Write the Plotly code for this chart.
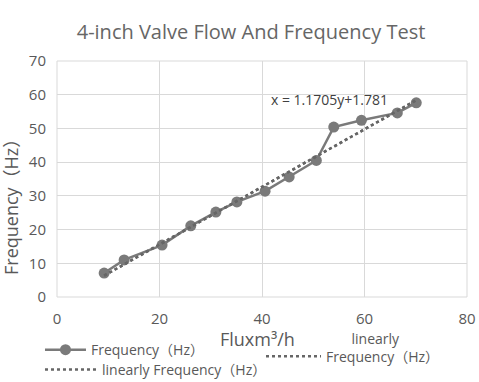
import plotly.graph_objects as go

# Data
flux = [9.2, 13.1, 20.5, 26.1, 31.0, 35.1, 40.6, 45.3, 50.6, 54.0, 59.4, 66.4, 70.1]
freq = [7.1, 11.0, 15.4, 21.1, 25.2, 28.2, 31.4, 35.6, 40.5, 50.4, 52.4, 54.6, 57.6]

# Trendline (as printed on chart): x = 1.1705y + 1.781
trend_slope = 1.1705
trend_intercept = 1.781
trend_x = [min(flux), max(flux)]
trend_y = [(v - trend_intercept) / trend_slope for v in trend_x]

x_ticks = [0, 20, 40, 60, 80]
y_ticks = [0, 10, 20, 30, 40, 50, 60, 70]

FONT = "Open Sans, Noto Sans CJK SC"
TXT = "#595959"
LINE = "#7a7a7a"
DOT = "#666666"

W, H = 479, 382
ML, MT, MR, MB = 57, 61, 12, 85
PW, PH = W - ML - MR, H - MT - MB  # 410 x 236


def px_x(px):  # page pixel -> paper x
    return (px - ML) / PW


def px_y(py):  # page pixel -> paper y
    return (H - MB - py) / PH


fig = go.Figure()
fig.add_trace(go.Scatter(
    x=flux, y=freq, mode="lines+markers", name="Frequency（Hz）",
    line=dict(color=LINE, width=2.5),
    marker=dict(color=LINE, size=11),
    legend="legend",
))
fig.add_trace(go.Scatter(
    x=trend_x, y=trend_y, mode="lines",
    name="&nbsp;&nbsp;&nbsp;&nbsp;&nbsp;&nbsp;&nbsp;linearly<br>Frequency（Hz）",
    line=dict(color=DOT, width=2.5, dash="dot"),
    legend="legend2",
))
fig.add_trace(go.Scatter(
    x=trend_x, y=trend_y, mode="lines", name="linearly Frequency（Hz）",
    line=dict(color=DOT, width=2.5, dash="dot"),
    legend="legend3",
))

fig.add_annotation(
    x=41.3, y=58.6, xref="x", yref="y", text="x = 1.1705y+1.781",
    showarrow=False, xanchor="left", yanchor="middle",
    font=dict(family=FONT, size=14, color="#404040"),
)
# axis titles placed as in the reference
fig.add_annotation(
    x=px_x(11), y=px_y(203), xref="paper", yref="paper",
    text="Frequency（Hz）", textangle=-90, showarrow=False,
    xanchor="center", yanchor="middle",
    font=dict(family=FONT, size=18, color=TXT),
)
fig.add_annotation(
    x=px_x(257), y=px_y(339), xref="paper", yref="paper",
    text="Fluxm³/h", showarrow=False,
    xanchor="center", yanchor="middle",
    font=dict(family=FONT, size=18, color=TXT),
)

leg_font = dict(family=FONT, size=14, color=TXT)
fig.update_layout(
    width=W, height=H,
    margin=dict(l=ML, r=MR, t=MT, b=MB, autoexpand=False),
    paper_bgcolor="white", plot_bgcolor="white",
    font=dict(family=FONT, color=TXT),
    title=dict(text="4-inch Valve Flow And Frequency Test", x=251 / W, xanchor="center",
               y=1 - 32 / H, yanchor="middle",
               font=dict(family=FONT, size=20, color="#666666")),
    xaxis=dict(range=[0, 80], tickvals=x_ticks, showgrid=True, gridcolor="#d9d9d9",
               zeroline=False, showline=False, ticks="outside", ticklen=8,
               tickcolor="rgba(0,0,0,0)",
               tickfont=dict(size=15, color=TXT)),
    yaxis=dict(range=[0, 70], tickvals=y_ticks, showgrid=True, gridcolor="#d9d9d9",
               zeroline=False, showline=False, ticks="outside", ticklen=7,
               tickcolor="rgba(0,0,0,0)",
               tickfont=dict(size=15, color=TXT)),
    legend=dict(orientation="h", x=-0.0415, y=-0.157, xanchor="left", yanchor="top",
                font=leg_font, bgcolor="rgba(0,0,0,0)", itemwidth=41),
    legend2=dict(orientation="h", x=0.4976, y=-0.108, xanchor="left", yanchor="top",
                 font=leg_font, bgcolor="rgba(0,0,0,0)", itemwidth=55, valign="bottom"),
    legend3=dict(orientation="h", x=-0.0415, y=-0.2415, xanchor="left", yanchor="top",
                 font=leg_font, bgcolor="rgba(0,0,0,0)", itemwidth=52),
    showlegend=True,
)
fig.add_shape(type="rect", xref="paper", yref="paper", x0=0, y0=0, x1=1, y1=1,
              line=dict(color="#d9d9d9", width=1), layer="below")

fig.write_html(
    "out.html",
    config={"displayModeBar": False},
    post_script="document.body.style.margin='0';document.body.style.overflow='hidden';",
)
